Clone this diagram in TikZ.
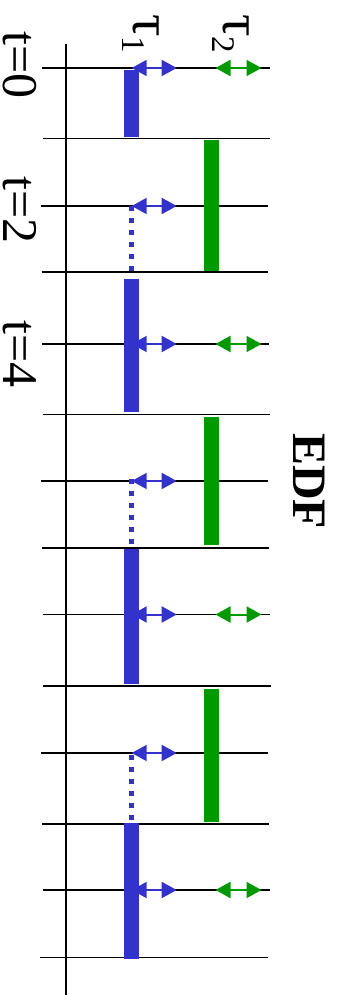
\documentclass[tikz,border=0pt]{standalone}
\usepackage{fontspec}
\setmainfont{Liberation Serif}
\usetikzlibrary{arrows.meta}
\definecolor{taskblue}{RGB}{51,51,204}
\definecolor{taskgreen}{RGB}{0,153,0}

\begin{document}
\begin{tikzpicture}[x=1pt,y=-1pt,
  slot/.style={black,line width=1.6pt},
  timeaxis/.style={black,line width=1.6pt},
  runblue/.style={fill=taskblue,draw=none},
  rungreen/.style={fill=taskgreen,draw=none},
  waitblue/.style={taskblue,line width=5pt,dash pattern=on 5pt off 7pt},
  periodblue/.style={taskblue,line width=2pt,
    {Triangle[length=15pt,width=16pt]}-{Triangle[length=15pt,width=16pt]}},
  periodgreen/.style={taskgreen,line width=2pt,
    {Triangle[length=15pt,width=16pt]}-{Triangle[length=15pt,width=16pt]}},
  lbl/.style={rotate=-90,inner sep=0pt,anchor=base west,
    font=\fontsize{50}{50}\selectfont},
  tasklbl/.style={rotate=-90,inner sep=0pt,anchor=base west,
    font=\fontsize{56}{56}\selectfont},
  title/.style={rotate=-90,inner sep=0pt,anchor=base west,
    font=\fontsize{48}{48}\selectfont\bfseries}
]
\useasboundingbox (0,0) rectangle (339,995);

% time axis
\coordinate (axtop) at (66,44);
\coordinate (axbot) at (66,995);
\draw[timeaxis] (axtop) -- (axbot);

% slot boundaries
\foreach \y/\a/\b in {68/42/270, 138.5/43/270, 206/40.7/268, 272/41.7/268,
    344/42/269, 414.5/43/270, 481/41/268, 548/42/269, 614.5/43/270,
    686/43/271, 753/41/268, 824/42/269, 890/43/270, 957.5/40/268}
  \draw[slot] (\a,\y) -- (\b,\y);

% task 1 execution
\fill[runblue] (123.7,70.5) rectangle (139,136.7);
\fill[runblue] (123.7,279) rectangle (139,411.5);
\fill[runblue] (123.7,549) rectangle (139,684);
\fill[runblue] (123.7,823) rectangle (139,959);

% task 2 execution
\fill[rungreen] (203.7,140.3) rectangle (219.3,271);
\fill[rungreen] (203.7,417) rectangle (219.3,545);
\fill[rungreen] (203.7,689) rectangle (219.3,822);

% task 1 waiting
\draw[waitblue] (131.5,206) -- (131.5,274);
\draw[waitblue] (131.5,479) -- (131.5,547);
\draw[waitblue] (131.5,755) -- (131.5,823);

% release / deadline markers
\foreach \y in {68,206,344,481,614.5,753,890}
  \draw[periodblue] (131.7,\y) -- (176.7,\y);
\foreach \y in {68,344,614.5,890}
  \draw[periodgreen] (215.5,\y) -- (261.5,\y);

% labels
\node[lbl] (t0) at (4,31) {t=0};
\node[lbl] (t2) at (4,176) {t=2};
\node[lbl] (t4) at (4,320) {t=4};
\node[tasklbl] (tau1) at (133,14) {τ\raisebox{-11pt}{\fontsize{33}{33}\selectfont 1}};
\node[tasklbl] (tau2) at (223,14) {τ\raisebox{-11pt}{\fontsize{33}{33}\selectfont 2}};
\node[title] (edf) at (293,433) {EDF};
\end{tikzpicture}
\end{document}
